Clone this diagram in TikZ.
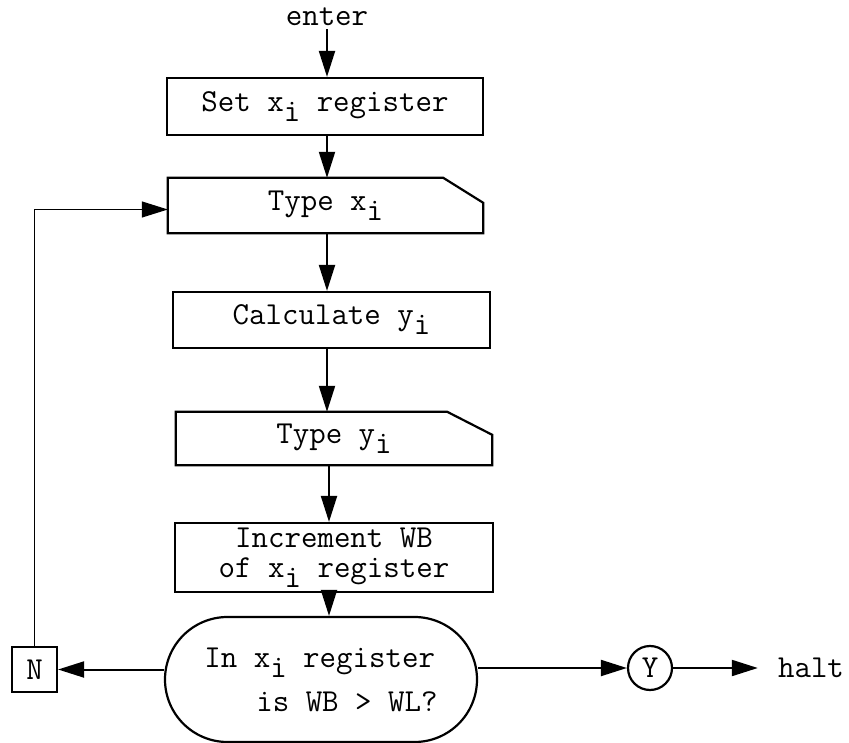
\documentclass[tikz,border=0pt]{standalone}
\usetikzlibrary{arrows.meta,shapes.misc}
\newcommand\subi{\raisebox{-10pt}{i}}
\begin{document}
\begin{tikzpicture}[x=1pt,y=-1pt,
  font=\ttfamily\fontsize{32}{36}\selectfont,
  box/.style={draw,line width=2.2pt,inner sep=0pt},
  card/.style={inner sep=0pt},
  cardline/.style={line width=2.2pt,line join=miter},
  arr/.style={line width=2pt,-{Triangle[length=26pt,width=16pt]}},
  thinarr/.style={line width=1.2pt,-{Triangle[length=26pt,width=16pt]}},
]
\useasboundingbox (0,0) rectangle (849,743);
\node (enter) at (327,17) {enter};
\node[box,minimum width=316pt,minimum height=57pt] (b1) at (325,106.5) {Set x\subi{} register};
\node[card,minimum width=315pt,minimum height=55pt] (b2) at (325.5,205.5) {Type x\subi};
\draw[cardline] (b2.south west) -- (b2.north west) -- ([xshift=-40pt]b2.north east) -- ([yshift=-25pt]b2.north east) -- (b2.south east) -- cycle;
\node[box,minimum width=317pt,minimum height=56pt] (b3) at (331.5,320) {Calculate y\subi};
\node[card,minimum width=316pt,minimum height=53pt] (b4) at (334,438.5) {Type y\subi};
\draw[cardline] (b4.south west) -- (b4.north west) -- ([xshift=-45pt]b4.north east) -- ([yshift=-23pt]b4.north east) -- (b4.south east) -- cycle;
\node[box,minimum width=318pt,minimum height=69pt,align=center,font=\ttfamily\fontsize{32}{30}\selectfont] (b5) at (334,557.5) {Increment WB\\of x\subi{} register};
\node[draw,line width=2.2pt,rounded rectangle,minimum width=312pt,minimum height=125pt,inner sep=0pt,align=left,font=\ttfamily\fontsize{32}{44}\selectfont] (st) at (321,679.5) {In x\subi{} register\\\hspace*{52pt}is WB > WL?};
\node[box,minimum size=45pt] (N) at (34.5,669.5) {N};
\node[draw,circle,line width=2.2pt,minimum size=44pt,inner sep=0pt] (Y) at (650,668) {Y};
\node[inner xsep=20pt] (halt) at (811,668) {halt};
\draw[arr] (enter.south) -- (enter.south |- b1.north);
\draw[arr] (b1.south -| enter.south) -- (enter.south |- b2.north);
\draw[arr] (b2.south -| enter.south) -- (enter.south |- b3.north);
\draw[arr] (b3.south -| enter.south) -- (enter.south |- b4.north);
\draw[arr] (b4.south -| b5.north) ++(-5pt,0) coordinate (c45) -- (c45 |- b5.north);
\draw[arr] (b5.south -| c45) -- (c45 |- st.north);
\draw[arr] (st.west |- N) -- (N.east);
\draw[arr] (st.east |- Y) -- (Y.west);
\draw[arr] (Y.east) -- (halt.west);
\draw[thinarr] (N.north) |- ([yshift=-4pt]b2.west);
\end{tikzpicture}
\end{document}
